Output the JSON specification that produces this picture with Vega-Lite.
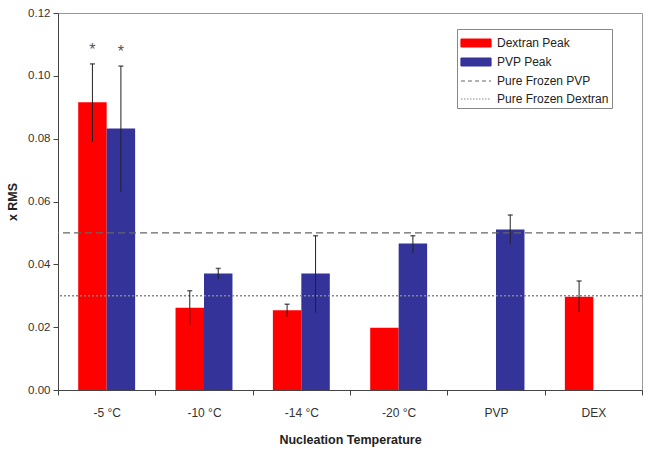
{
  "$schema": "https://vega.github.io/schema/vega-lite/v6.json",
  "width": 584,
  "height": 377,
  "autosize": {"type": "none"},
  "padding": {"left": 58, "top": 13, "right": 8, "bottom": 66},
  "background": "white",
  "config": {
    "font": "Liberation Sans",
    "view": {"stroke": "#999999", "strokeWidth": 1},
    "axis": {"grid": false, "domainColor": "#444444", "tickColor": "#444444", "labelColor": "#333333", "labelFontSize": 11.5, "titleColor": "#222222"}
  },
  "datasets": {
    "bars": [
      {"cat": "-5 °C", "series": "Dextran Peak", "value": 0.0916, "lower": 0.079, "upper": 0.1038, "star": "*"},
      {"cat": "-5 °C", "series": "PVP Peak", "value": 0.0832, "lower": 0.0631, "upper": 0.1031, "star": "*"},
      {"cat": "-10 °C", "series": "Dextran Peak", "value": 0.0262, "lower": 0.0207, "upper": 0.0316, "star": ""},
      {"cat": "-10 °C", "series": "PVP Peak", "value": 0.0371, "lower": 0.0353, "upper": 0.0387, "star": ""},
      {"cat": "-14 °C", "series": "Dextran Peak", "value": 0.0254, "lower": 0.0233, "upper": 0.0273, "star": ""},
      {"cat": "-14 °C", "series": "PVP Peak", "value": 0.0371, "lower": 0.0246, "upper": 0.0491, "star": ""},
      {"cat": "-20 °C", "series": "Dextran Peak", "value": 0.0198, "lower": null, "upper": null, "star": ""},
      {"cat": "-20 °C", "series": "PVP Peak", "value": 0.0466, "lower": 0.0437, "upper": 0.0491, "star": ""},
      {"cat": "PVP", "series": "PVP Peak", "value": 0.0511, "lower": 0.0464, "upper": 0.0557, "star": ""},
      {"cat": "DEX", "series": "Dextran Peak", "value": 0.0297, "lower": 0.0249, "upper": 0.0347, "star": ""}
    ],
    "refs": [
      {"series": "Pure Frozen PVP", "value": 0.05},
      {"series": "Pure Frozen Dextran", "value": 0.03}
    ]
  },
  "layer": [
    {
      "data": {"name": "bars"},
      "mark": {"type": "bar"},
      "encoding": {
        "x": {
          "field": "cat", "type": "nominal",
          "scale": {"domain": ["-5 °C", "-10 °C", "-14 °C", "-20 °C", "PVP", "DEX"], "paddingInner": 0, "paddingOuter": 0},
          "axis": {"labelAngle": 0, "tickBand": "extent", "tickSize": 5, "labelPadding": 12, "labelFontSize": 12, "title": "Nucleation Temperature", "titleFontSize": 12.5, "titleFontWeight": "bold", "titlePadding": 15}
        },
        "xOffset": {
          "field": "series", "type": "nominal",
          "scale": {"domain": ["Dextran Peak", "PVP Peak"], "paddingInner": 0, "paddingOuter": 0.71}
        },
        "y": {
          "field": "value", "type": "quantitative",
          "scale": {"domain": [0, 0.12], "nice": false},
          "axis": {"values": [0, 0.02, 0.04, 0.06, 0.08, 0.1, 0.12], "format": ".2f", "tickSize": 5, "labelPadding": 3, "title": "x RMS", "titleFontSize": 12.5, "titleFontWeight": "bold", "titlePadding": 8}
        },
        "color": {
          "field": "series", "type": "nominal",
          "scale": {"domain": ["Dextran Peak", "PVP Peak", "Pure Frozen PVP", "Pure Frozen Dextran"], "range": ["#ff0000", "#333399", "#666666", "#888888"]},
          "legend": {
            "title": null,
            "orient": "none",
            "legendX": 399,
            "legendY": 16,
            "direction": "vertical",
            "fillColor": "white",
            "strokeColor": "#888888",
            "padding": 3,
            "symbolSize": 400,
            "rowPadding": 1,
            "labelOffset": 15,
            "labelFontSize": 12,
            "labelColor": "#222222",
            "labelLimit": 200,
            "encode": {
              "symbols": {
                "update": {
                  "shape": {"signal": "(datum.value == 'Dextran Peak' || datum.value == 'PVP Peak') ? 'M-1,-0.4H2V0.4H-1Z' : 'M-1,0H2'"},
                  "fill": {"signal": "datum.value == 'Dextran Peak' ? '#ff0000' : datum.value == 'PVP Peak' ? '#333399' : 'transparent'"},
                  "stroke": {"signal": "datum.value == 'Dextran Peak' ? '#cc0000' : datum.value == 'PVP Peak' ? '#222266' : '#888888'"},
                  "strokeDash": {"signal": "datum.value == 'Pure Frozen PVP' ? [4, 3] : datum.value == 'Pure Frozen Dextran' ? [1.5, 1.5] : [1, 0]"},
                  "strokeWidth": {"value": 1.2},
                  "size": {"value": 400},
                  "opacity": {"value": 1}
                }
              }
            }
          }
        }
      }
    },
    {
      "data": {"name": "refs"},
      "mark": {"type": "rule", "strokeWidth": 1.3},
      "encoding": {
        "y": {"field": "value", "type": "quantitative"},
        "color": {"field": "series", "type": "nominal"},
        "strokeDash": {
          "field": "series", "type": "nominal",
          "scale": {"domain": ["Pure Frozen PVP", "Pure Frozen Dextran"], "range": [[7, 4], [2, 2]]},
          "legend": null
        }
      }
    },
    {
      "data": {"name": "bars"},
      "transform": [{"filter": "datum.upper != null"}],
      "mark": {"type": "rule", "color": "#222222", "strokeWidth": 1},
      "encoding": {
        "x": {"field": "cat", "type": "nominal"},
        "xOffset": {"field": "series", "type": "nominal"},
        "y": {"field": "lower", "type": "quantitative"},
        "y2": {"field": "upper"}
      }
    },
    {
      "data": {"name": "bars"},
      "transform": [{"filter": "datum.upper != null"}],
      "mark": {"type": "tick", "color": "#222222", "thickness": 1.5, "size": 5},
      "encoding": {
        "x": {"field": "cat", "type": "nominal"},
        "xOffset": {"field": "series", "type": "nominal"},
        "y": {"field": "upper", "type": "quantitative"}
      }
    },
    {
      "data": {"name": "bars"},
      "transform": [{"filter": "datum.star != ''"}],
      "mark": {"type": "text", "dy": -14, "fontSize": 16, "color": "#555555"},
      "encoding": {
        "x": {"field": "cat", "type": "nominal"},
        "xOffset": {"field": "series", "type": "nominal"},
        "y": {"field": "upper", "type": "quantitative"},
        "text": {"field": "star"}
      }
    }
  ]
}
